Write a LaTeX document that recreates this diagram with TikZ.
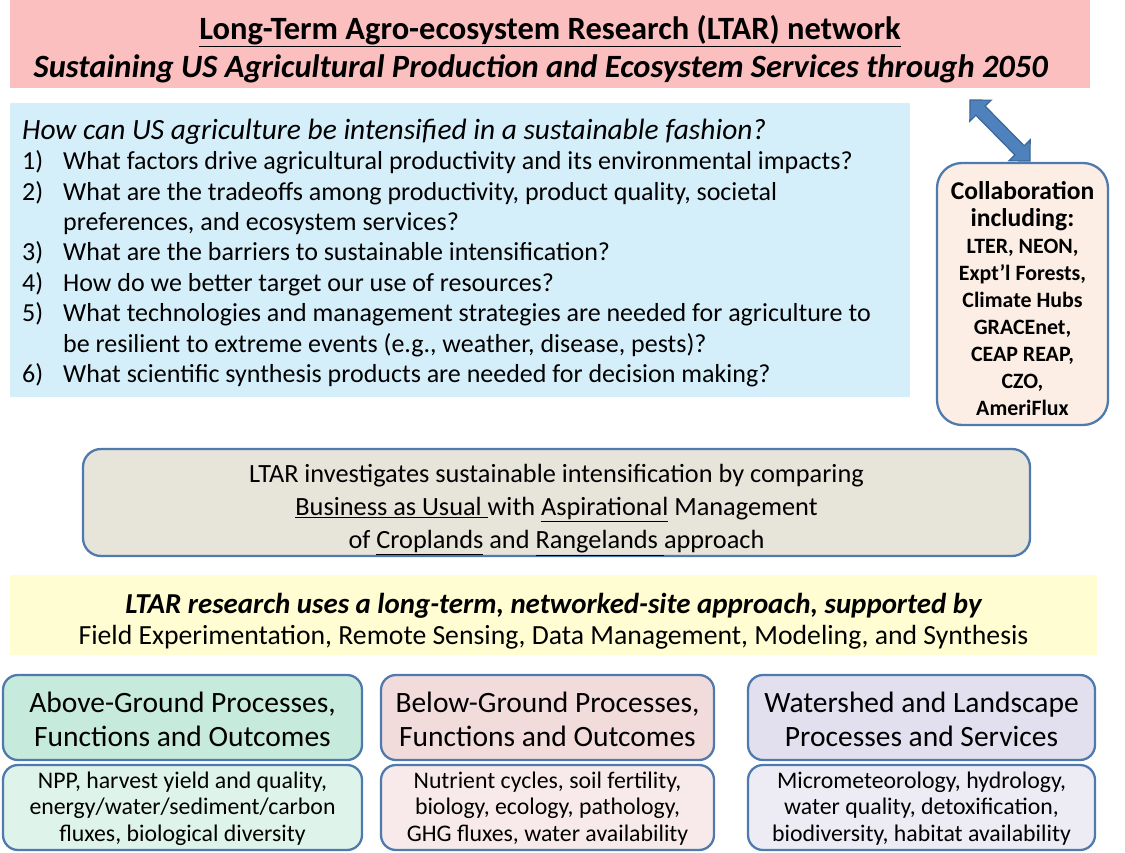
\documentclass[tikz,border=0pt]{standalone}
\usepackage{fontspec}
\setmainfont{Carlito}
\usetikzlibrary{calc}
\definecolor{pinkc}{HTML}{FBBFBF}
\definecolor{bluec}{HTML}{D5EFFA}
\definecolor{peachc}{HTML}{FCEEE4}
\definecolor{grayc}{HTML}{E7E4DA}
\definecolor{yellowc}{HTML}{FFFDD1}
\definecolor{mintA}{HTML}{C6EADB}
\definecolor{mintB}{HTML}{DEF3EA}
\definecolor{roseA}{HTML}{F2DCDB}
\definecolor{roseB}{HTML}{F8EAEA}
\definecolor{lavA}{HTML}{E2DFEE}
\definecolor{lavB}{HTML}{EDECF5}
\definecolor{bordc}{HTML}{4F7AAE}
\definecolor{arrfill}{HTML}{4F81BD}
\definecolor{arrline}{HTML}{3B6698}
\newcommand{\qnum}[1]{\makebox[41pt][l]{#1}}
\begin{document}
\begin{tikzpicture}[x=1pt,y=-1pt,
  flatbox/.style={draw=none, inner sep=0pt, align=center, text=black},
  rbox/.style={draw=bordc, line width=2.3pt, inner sep=0pt, align=center, text=black},
  txt/.style={inner sep=0pt, align=center, text=black},
  headbox/.style={rbox, rounded corners=15pt, minimum height=85pt},
  headtxt/.style={txt, font=\fontsize{29.5}{34}\selectfont},
  bodytxt/.style={txt, font=\fontsize{23.8}{26.5}\selectfont},
  blockarrow/.style={fill=arrfill, draw=arrline, line width=1.2pt, line join=miter}
]
\useasboundingbox (0,0) rectangle (1125,853);

% title
\node[flatbox, fill=pinkc, minimum width=1080pt, minimum height=88pt] (title) at (550,44) {};
\node[txt, font=\bfseries\fontsize{32.5}{38}\selectfont] (titletext) at (550,49)
  {\underline{Long-Term Agro-ecosystem Research (LTAR) network}\\
   \textit{Sustaining US Agricultural Production and Ecosystem Services through 2050}\hspace*{18pt}};

% questions
\node[flatbox, fill=bluec, minimum width=900pt, minimum height=294pt] (questions) at (460,250) {};
\node[txt, align=left, anchor=west, font=\fontsize{26}{30.4}\selectfont] (qtext) at (22,253)
  {{\fontsize{29.4}{30.4}\selectfont\itshape How can US agriculture be intensified in a sustainable fashion?}\\
   \qnum{1)}What factors drive agricultural productivity and its environmental impacts?\\
   \qnum{2)}What are the tradeoffs among productivity, product quality, societal\\
   \qnum{}preferences, and ecosystem services?\\
   \qnum{3)}What are the barriers to sustainable intensification?\\
   \qnum{4)}How do we better target our use of resources?\\
   \qnum{5)}What technologies and management strategies are needed for agriculture to\\
   \qnum{}be resilient to extreme events (e.g., weather, disease, pests)?\\
   \qnum{6)}What scientific synthesis products are needed for decision making?};

% collaboration
\node[rbox, fill=peachc, rounded corners=25pt, minimum width=171pt, minimum height=262pt] (collab) at (1022.5,294) {};
\node[txt, font=\bfseries\fontsize{21.9}{26.9}\selectfont] (collabtext) at (1022.5,298.5)
  {{\fontsize{25.6}{26.9}\selectfont Collaboration}\\
   {\fontsize{25.6}{26.9}\selectfont including:}\\
   LTER, NEON,\\ Expt’l Forests,\\ Climate Hubs\\ GRACEnet,\\ CEAP REAP,\\ CZO,\\ AmeriFlux};

% double block arrow between title and collaboration box
\coordinate (arrA) at (970,100);
\coordinate (arrB) at (1030,161);
\draw[blockarrow]
  (arrA)
  -- ($(arrA)!15pt!(arrB)!15pt!90:(arrB)$)
  -- ($(arrA)!15pt!(arrB)!6.5pt!90:(arrB)$)
  -- ($(arrB)!15pt!(arrA)!6.5pt!-90:(arrA)$)
  -- ($(arrB)!15pt!(arrA)!15pt!-90:(arrA)$)
  -- (arrB)
  -- ($(arrB)!15pt!(arrA)!15pt!90:(arrA)$)
  -- ($(arrB)!15pt!(arrA)!6.5pt!90:(arrA)$)
  -- ($(arrA)!15pt!(arrB)!6.5pt!-90:(arrB)$)
  -- ($(arrA)!15pt!(arrB)!15pt!-90:(arrB)$)
  -- cycle;

% comparing box
\node[rbox, fill=grayc, rounded corners=18pt, minimum width=947pt, minimum height=107pt] (compare) at (556.5,502.5) {};
\node[txt, font=\fontsize{26.3}{33}\selectfont] (comparetext) at (556.5,510)
  {LTAR investigates sustainable intensification by comparing\\
   \underline{Business as Usual }with \underline{Aspirational} Management\\
   of \underline{Croplands} and \underline{Rangelands }approach};

% approach box
\node[flatbox, fill=yellowc, minimum width=1087pt, minimum height=80pt] (approach) at (553.5,615) {};
\node[txt, font=\fontsize{27.7}{31}\selectfont] (approachtext) at (553.5,621)
  {{\fontsize{28.9}{31}\selectfont\bfseries\itshape LTAR research uses a long-term, networked-site approach, supported by}\\
   Field Experimentation, Remote Sensing, Data Management, Modeling, and Synthesis};

% bottom columns
\node[headbox, fill=mintA, minimum width=359pt] (aboveH) at (182.5,717.5) {};
\node[headtxt] (aboveHt) at (182.5,719.5) {Above-Ground Processes,\\ Functions and Outcomes};
\node[headbox, fill=mintB, minimum width=359pt] (aboveB) at (182.5,807.5) {};
\node[bodytxt] (aboveBt) at (182.5,808.5) {NPP, harvest yield and quality,\\ energy/water/sediment/carbon\\ fluxes, biological diversity};

\node[headbox, fill=roseA, minimum width=333pt] (belowH) at (547.5,717.5) {};
\node[headtxt] (belowHt) at (547.5,719.5) {Below-Ground Processes,\\ Functions and Outcomes};
\node[headbox, fill=roseB, minimum width=333pt] (belowB) at (547.5,807.5) {};
\node[bodytxt] (belowBt) at (547.5,808.5) {Nutrient cycles, soil fertility,\\ biology, ecology, pathology,\\ GHG fluxes, water availability};

\node[headbox, fill=lavA, minimum width=347pt] (waterH) at (921.5,717.5) {};
\node[headtxt] (waterHt) at (921.5,719.5) {Watershed and Landscape\\ Processes and Services};
\node[headbox, fill=lavB, minimum width=347pt] (waterB) at (921.5,807.5) {};
\node[bodytxt] (waterBt) at (921.5,808.5) {Micrometeorology, hydrology,\\ water quality, detoxification,\\ biodiversity, habitat availability};
\end{tikzpicture}
\end{document}
